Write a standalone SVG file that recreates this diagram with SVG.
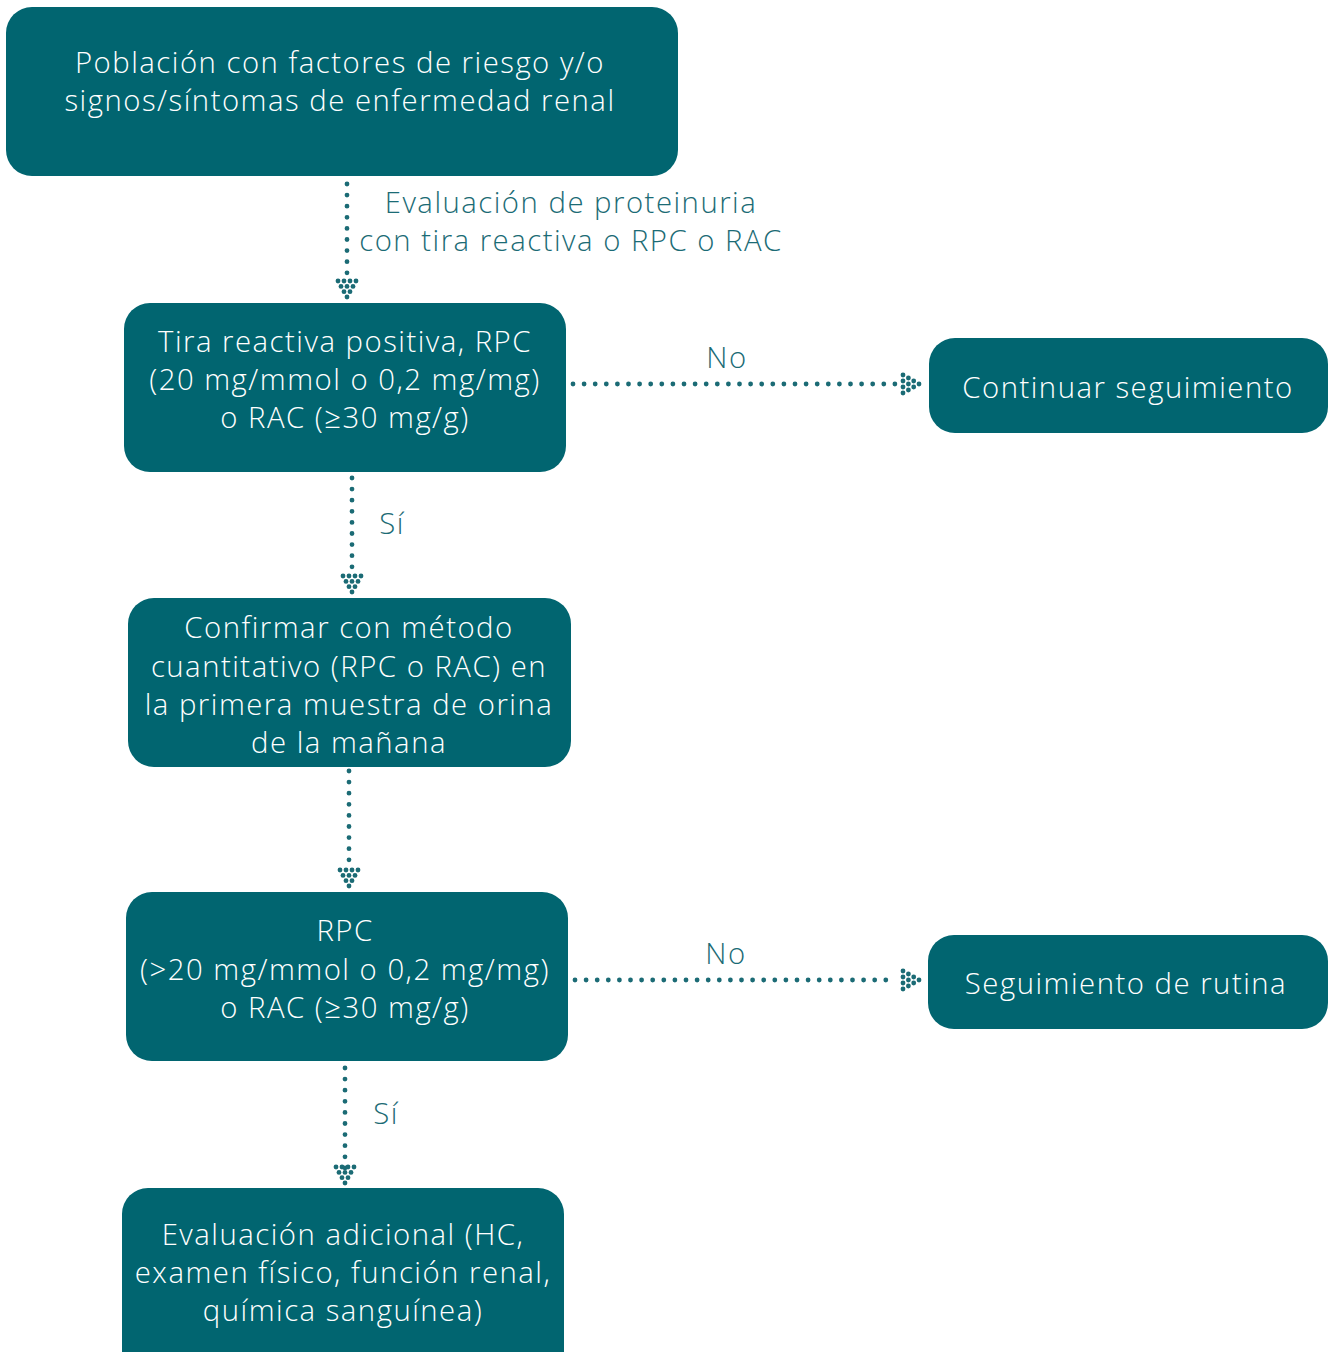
<svg xmlns="http://www.w3.org/2000/svg" xmlns:xlink="http://www.w3.org/1999/xlink" width="1328" height="1352" viewBox="0 0 1328 1352">
<style>
.box{fill:#016570}
.bt{font-family:"Open Sans","Liberation Sans",sans-serif;font-size:29.3px;font-weight:350;letter-spacing:1.5px;fill:#ffffff;text-anchor:middle;font-variant-ligatures:none}
.lb{font-family:"Open Sans","Liberation Sans",sans-serif;font-size:29.3px;font-weight:350;letter-spacing:1.5px;fill:#1b6b75;text-anchor:middle}
.dl{stroke:#1b6b75;stroke-width:4.8;stroke-linecap:round;stroke-dasharray:0 11.1;fill:none}
.ad{fill:#1b6b75}
</style>
<defs>
<g id="ah" class="ad">
<circle cx="0" cy="0" r="2.4"/>
<circle cx="-3" cy="-5.3" r="2.4"/><circle cx="3" cy="-5.3" r="2.4"/>
<circle cx="-6" cy="-10.6" r="2.4"/><circle cx="0" cy="-10.6" r="2.4"/><circle cx="6" cy="-10.6" r="2.4"/>
<circle cx="-9" cy="-16" r="2.4"/><circle cx="-3" cy="-16" r="2.4"/><circle cx="3" cy="-16" r="2.4"/><circle cx="9" cy="-16" r="2.4"/>
</g>
</defs>
<rect width="1328" height="1352" fill="#ffffff"/>
<g id="connectors">
<line class="dl" x1="347" y1="184" x2="347" y2="273"/>
<use xlink:href="#ah" transform="translate(347,297)"/>
<line class="dl" x1="573" y1="384" x2="895" y2="384"/>
<use xlink:href="#ah" transform="translate(919,384) rotate(-90)"/>
<line class="dl" x1="352" y1="478" x2="352" y2="567"/>
<use xlink:href="#ah" transform="translate(352,592)"/>
<line class="dl" x1="349" y1="771" x2="349" y2="862"/>
<use xlink:href="#ah" transform="translate(349,886)"/>
<line class="dl" x1="575" y1="980" x2="895" y2="980"/>
<use xlink:href="#ah" transform="translate(919,980) rotate(-90)"/>
<line class="dl" x1="345" y1="1068" x2="345" y2="1168"/>
<use xlink:href="#ah" transform="translate(345,1183)"/>
</g>
<g id="labels">
<text class="lb" x="571" y="213">Evaluación de proteinuria</text>
<text class="lb" x="571" y="251">con tira reactiva o RPC o RAC</text>
<text class="lb" x="727" y="368">No</text>
<text class="lb" x="392" y="534">Sí</text>
<text class="lb" x="726" y="964">No</text>
<text class="lb" x="386" y="1124">Sí</text>
</g>
<g id="n1">
<rect class="box" x="6" y="7" width="672" height="169" rx="26"/>
<text class="bt" x="340" y="73">Población con factores de riesgo y/o</text>
<text class="bt" x="340" y="111">signos/síntomas de enfermedad renal</text>
</g>
<g id="n2">
<rect class="box" x="124" y="303" width="442" height="169" rx="26"/>
<text class="bt" x="345" y="352">Tira reactiva positiva, RPC</text>
<text class="bt" x="345" y="390">(20 mg/mmol o 0,2 mg/mg)</text>
<text class="bt" x="345" y="428">o RAC (≥30 mg/g)</text>
</g>
<g id="n3">
<rect class="box" x="929" y="338" width="399" height="95" rx="26"/>
<text class="bt" x="1128" y="398">Continuar seguimiento</text>
</g>
<g id="n4">
<rect class="box" x="128" y="598" width="443" height="169" rx="26"/>
<text class="bt" x="349" y="638">Confirmar con método</text>
<text class="bt" x="349" y="677">cuantitativo (RPC o RAC) en</text>
<text class="bt" x="349" y="715">la primera muestra de orina</text>
<text class="bt" x="349" y="753">de la mañana</text>
</g>
<g id="n5">
<rect class="box" x="126" y="892" width="442" height="169" rx="26"/>
<text class="bt" x="345" y="941">RPC</text>
<text class="bt" x="345" y="980">(&gt;20 mg/mmol o 0,2 mg/mg)</text>
<text class="bt" x="345" y="1018">o RAC (≥30 mg/g)</text>
</g>
<g id="n6">
<rect class="box" x="928" y="935" width="400" height="94" rx="26"/>
<text class="bt" x="1126" y="994">Seguimiento de rutina</text>
</g>
<g id="n7">
<rect class="box" x="122" y="1188" width="442" height="190" rx="26"/>
<text class="bt" x="343" y="1245">Evaluación adicional (HC,</text>
<text class="bt" x="343" y="1283">examen físico, función renal,</text>
<text class="bt" x="343" y="1321">química sanguínea)</text>
</g>
</svg>
